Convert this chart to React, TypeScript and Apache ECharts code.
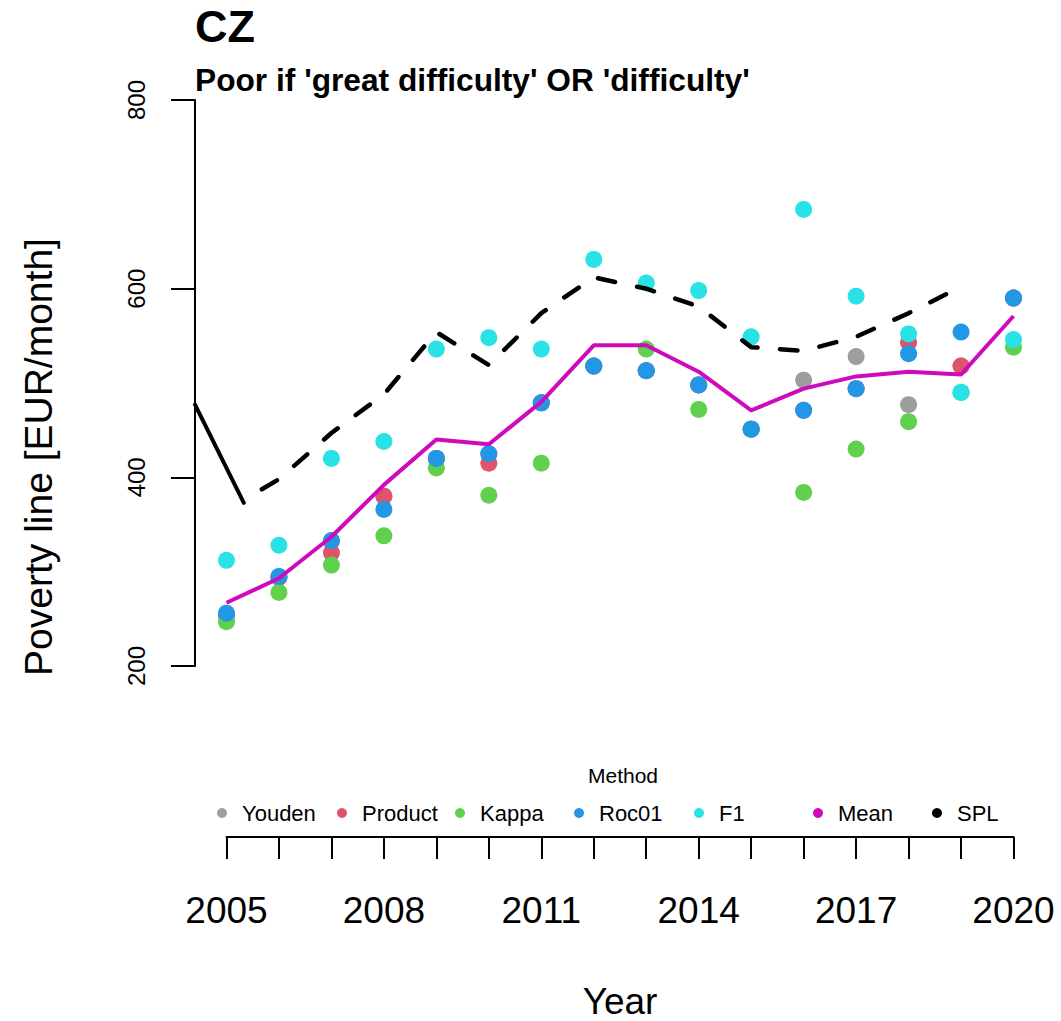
import React, { useEffect, useRef } from "react";
import * as echarts from "echarts";

const years = [2005, 2006, 2007, 2008, 2009, 2010, 2011, 2012, 2013, 2014, 2015, 2016, 2017, 2018, 2019, 2020];
const yearLabels = years.map(String);

const youden = [254, 294, 332, 380, 420, 425, 479, 518, 513, 498, 451, 503, 528, 477, 518, 590];
const product = [254, 294, 320, 380, 420, 415, 479, 518, 513, 498, 451, 471, 494, 543, 518, 590];
const kappa = [247, 278, 307, 338, 410, 381, 415, 518, 536, 472, 451, 384, 430, 459, 490, 538];
const roc01 = [256, 295, 333, 366, 420, 425, 479, 518, 513, 498, 451, 471, 494, 531, 554, 590];
const f1 = [312, 328, 420, 438, 536, 548, 536, 631, 606, 598, 549, 684, 592, 552, 490, 546];
const meanLine = [267, 293, 337, 392, 440, 435, 480, 540, 540, 512, 471, 494, 507, 512, 509, 571];

// SPL: short solid piece at the start, then the dashed line
const splSolidX = [2004.4, 2005.33];
const splSolidY = [477, 373];
const splDashX = [2005.33, 2006, 2007, 2008, 2009, 2010, 2011, 2012, 2013, 2014, 2015, 2016, 2017, 2018, 2019];
const splDashY = [376, 398, 447, 488, 554, 519, 574, 612, 600, 581, 538, 534, 549, 574, 602];

const yTicks = [200, 400, 600, 800];

const methods = ["Youden", "Product", "Kappa", "Roc01", "F1", "Mean", "SPL"];
const methodColors = ["#9E9E9E", "#DF536B", "#61D04F", "#2297E6", "#28E2E5", "#CD0BBC", "#000000"];
const legendLeft = [212, 332, 450, 569, 689, 808, 927];

const FONT = "'Liberation Sans', Arial, Helvetica, sans-serif";

export default function App() {
  const ref = useRef<HTMLDivElement>(null);
  useEffect(() => {
    document.body.style.margin = "0";
    const chart = echarts.init(ref.current!, undefined, { renderer: "svg" });
    const pts = (arr: number[]) => years.map((y, i) => [y, arr[i]]);
    const scatter = (name: string, arr: number[], color: string) => ({
      name,
      type: "scatter",
      xAxisIndex: 0,
      yAxisIndex: 0,
      data: pts(arr),
      symbol: "circle",
      symbolSize: 17,
      itemStyle: { color, opacity: 1 },
      z: 2,
    });
    chart.setOption({
      animation: false,
      backgroundColor: "#ffffff",
      textStyle: { fontFamily: FONT, color: "#000" },
      title: [
        {
          text: "CZ",
          left: 190,
          top: -1,
          textStyle: { fontFamily: FONT, fontSize: 45, fontWeight: "bold", color: "#000" },
        },
        {
          text: "Poor if 'great difficulty' OR 'difficulty'",
          left: 190,
          top: 59,
          textStyle: { fontFamily: FONT, fontSize: 31.7, fontWeight: "bold", color: "#000" },
        },
      ],
      legend: methods.map((m, i) => ({
        data: [m],
        left: legendLeft[i],
        top: 797,
        icon: "circle",
        itemWidth: 10,
        itemHeight: 10,
        selectedMode: false,
        textStyle: { fontFamily: FONT, fontSize: 22, color: "#000", padding: [5, 0, 0, 10] },
        itemStyle: { color: methodColors[i] },
      })),
      grid: [
        { left: 195, right: 16, top: 100, bottom: 355 },
        { left: 226.5, right: 47.5, top: 800, bottom: 183 },
      ],
      xAxis: [
        {
          type: "value",
          gridIndex: 0,
          min: 2004.4,
          max: 2020.6,
          show: false,
        },
        {
          type: "category",
          gridIndex: 1,
          data: yearLabels,
          boundaryGap: false,
          position: "bottom",
          axisLine: { show: true, lineStyle: { color: "#000", width: 2 } },
          axisTick: { show: true, inside: false, length: 22, interval: 0, lineStyle: { color: "#000", width: 2 } },
          axisLabel: { interval: 2, fontSize: 37, color: "#000", margin: 55, fontFamily: FONT },
          splitLine: { show: false },
          name: "Year",
          nameLocation: "middle",
          nameGap: 146,
          nameTextStyle: { fontSize: 37, color: "#000", fontFamily: FONT },
        },
      ],
      yAxis: [
        {
          type: "value",
          gridIndex: 0,
          min: 200,
          max: 800,
          interval: 200,
          axisLine: { show: true, lineStyle: { color: "#000", width: 2 } },
          axisTick: { show: true, inside: false, length: 24, lineStyle: { color: "#000", width: 2 } },
          axisLabel: {
            rotate: 90,
            fontSize: 24,
            color: "#000",
            margin: 47,
            fontFamily: FONT,
            customValues: yTicks,
          },
          splitLine: { show: false },
        },
        { type: "value", gridIndex: 1, show: false },
      ],
      graphic: [
        {
          type: "text",
          x: 38,
          y: 457,
          rotation: Math.PI / 2,
          style: {
            text: "Poverty line [EUR/month]",
            fontSize: 39,
            fontFamily: FONT,
            fill: "#000",
            textAlign: "center",
            textVerticalAlign: "middle",
          },
        },
        {
          type: "text",
          x: 623,
          y: 775,
          style: {
            text: "Method",
            fontSize: 21,
            fontFamily: FONT,
            fill: "#000",
            textAlign: "center",
            textVerticalAlign: "middle",
          },
        },
      ],
      series: [
        scatter("Youden", youden, methodColors[0]),
        scatter("Product", product, methodColors[1]),
        scatter("Kappa", kappa, methodColors[2]),
        scatter("Roc01", roc01, methodColors[3]),
        scatter("F1", f1, methodColors[4]),
        {
          name: "Mean",
          type: "line",
          data: pts(meanLine),
          symbol: "none",
          itemStyle: { color: methodColors[5] },
          lineStyle: { color: methodColors[5], width: 4 },
          z: 3,
        },
        {
          name: "SPL",
          type: "line",
          data: splDashX.map((x, i) => [x, splDashY[i]]),
          symbol: "none",
          itemStyle: { color: "#000" },
          lineStyle: { color: "#000", width: 4.5, type: [17.5, 22.5], dashOffset: 19, cap: "round", join: "round" },
          z: 3,
        },
        {
          name: "SPL",
          type: "line",
          data: splSolidX.map((x, i) => [x, splSolidY[i]]),
          symbol: "none",
          clip: true,
          itemStyle: { color: "#000" },
          lineStyle: { color: "#000", width: 4, cap: "round" },
          z: 3,
        },
      ],
    });
    return () => chart.dispose();
  }, []);
  return <div ref={ref} style={{ width: 1061, height: 1021 }} />;
}
